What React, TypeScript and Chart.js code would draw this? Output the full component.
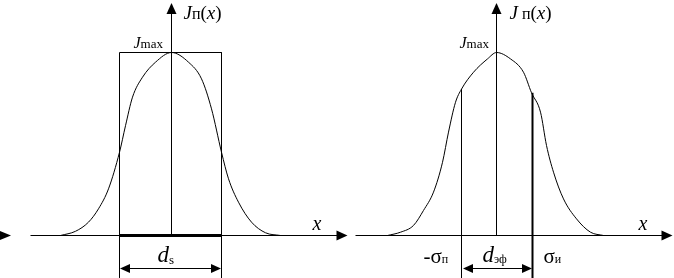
import React, { useEffect, useRef } from "react";
import { Chart, registerables } from "chart.js";

Chart.register(...registerables);

// Left panel: profile J(x)/Jmax with the equivalent rectangle of width d_s
const leftX = [-11.1, -9.6, -8.3, -7.3, -6.3, -5.2, -4.6, -3.9, -2.9, -1.6, 0, 1.7, 3.0, 4.0, 5.0, 5.7, 6.7, 8.0, 9.4, 10.9];
const leftY = [0, 0.023, 0.073, 0.146, 0.255, 0.455, 0.6, 0.756, 0.865, 0.947, 1, 0.947, 0.856, 0.692, 0.455, 0.31, 0.182, 0.073, 0.015, 0];
const rectEdges = [-5.2, 5.0];
const rectTop = 1;

// Right panel: profile with ±sigma marks giving d_эф
const rightX = [-10.9, -9.6, -8.3, -7.3, -6.3, -5.4, -4.8, -4.1, -3.5, -2.3, -0.9, 0, 1.4, 2.7, 3.5, 4.4, 5.0, 5.7, 6.7, 8.0, 9.4, 10.7];
const rightY = [0, 0.018, 0.055, 0.137, 0.237, 0.4, 0.565, 0.728, 0.8, 0.892, 0.965, 1, 0.965, 0.892, 0.78, 0.674, 0.492, 0.346, 0.2, 0.091, 0.018, 0];
const sigmaX = [-3.5, 3.6];
const sigmaTop = [0.8, 0.78];

const FONT = "'Liberation Serif', 'DejaVu Serif', serif";

type Seg = { t: string; size: number; italic?: boolean; dy?: number };

function drawRich(ctx: CanvasRenderingContext2D, x: number, y: number, segs: Seg[]) {
  let cx = x;
  for (const s of segs) {
    ctx.font = `${s.italic ? "italic " : ""}${s.size}px ${FONT}`;
    ctx.fillText(s.t, cx, y + (s.dy || 0));
    cx += ctx.measureText(s.t).width;
  }
}

function arrowHead(ctx: CanvasRenderingContext2D, tx: number, ty: number, dir: "r" | "l" | "u", len: number, hw: number) {
  ctx.beginPath();
  ctx.moveTo(tx, ty);
  if (dir === "r") {
    ctx.lineTo(tx - len, ty - hw);
    ctx.lineTo(tx - len, ty + hw);
  } else if (dir === "l") {
    ctx.lineTo(tx + len, ty - hw);
    ctx.lineTo(tx + len, ty + hw);
  } else {
    ctx.lineTo(tx - hw, ty + len);
    ctx.lineTo(tx + hw, ty + len);
  }
  ctx.closePath();
  ctx.fill();
}

const decorations = {
  id: "decorations",
  afterDatasetsDraw(chart: any) {
    const ctx: CanvasRenderingContext2D = chart.ctx;
    const xL = chart.scales.xL;
    const xR = chart.scales.xR;
    const y = chart.scales.y;
    const oy = y.getPixelForValue(0);
    const topY = 3;
    const dimY = y.getPixelForValue(-0.18);
    ctx.save();
    ctx.fillStyle = "#000";
    ctx.strokeStyle = "#000";
    ctx.lineWidth = 1;

    const panels = [
      { s: xL, a: rectEdges[0], b: rectEdges[1] },
      { s: xR, a: sigmaX[0], b: sigmaX[1] },
    ];
    for (const p of panels) {
      const ox = p.s.getPixelForValue(0);
      // horizontal axis
      const x0 = ox - 141;
      const tip = ox + 176;
      ctx.beginPath();
      ctx.moveTo(x0, oy);
      ctx.lineTo(tip - 8, oy);
      ctx.stroke();
      arrowHead(ctx, tip, oy, "r", 11, 5);
      // vertical axis
      ctx.beginPath();
      ctx.moveTo(ox, oy);
      ctx.lineTo(ox, topY + 8);
      ctx.stroke();
      arrowHead(ctx, ox, topY, "u", 11, 5);
      // dimension arrow
      const pa = Math.round(p.s.getPixelForValue(p.a));
      const pb = Math.round(p.s.getPixelForValue(p.b));
      ctx.beginPath();
      ctx.moveTo(pa + 4, Math.round(dimY) + 0.5);
      ctx.lineTo(pb - 4, Math.round(dimY) + 0.5);
      ctx.stroke();
      arrowHead(ctx, pa + 1, Math.round(dimY) + 0.5, "l", 10, 4.5);
      arrowHead(ctx, pb, Math.round(dimY) + 0.5, "r", 10, 4.5);
    }
    // stray arrowhead at the far left edge
    arrowHead(ctx, 11, oy, "r", 12, 5);

    // texts
    ctx.textBaseline = "alphabetic";
    const lox = xL.getPixelForValue(0);
    const rox = xR.getPixelForValue(0);
    // left panel
    drawRich(ctx, lox + 12, 19, [
      { t: "J", size: 19, italic: true },
      { t: "п", size: 16 },
      { t: "(", size: 19 },
      { t: "x", size: 19, italic: true },
      { t: ")", size: 19 },
    ]);
    drawRich(ctx, lox - 38, 48, [
      { t: "J", size: 16, italic: true },
      { t: "max", size: 13 },
    ]);
    drawRich(ctx, lox + 141, 230, [{ t: "x", size: 20, italic: true }]);
    drawRich(ctx, lox - 14, 262, [
      { t: "d", size: 23, italic: true },
      { t: "s", size: 13, dy: 2 },
    ]);
    // right panel
    drawRich(ctx, rox + 13, 19, [
      { t: "J", size: 19, italic: true },
      { t: " п", size: 16 },
      { t: "(", size: 19 },
      { t: "x", size: 19, italic: true },
      { t: ")", size: 19 },
    ]);
    drawRich(ctx, rox - 37, 48, [
      { t: "J", size: 16, italic: true },
      { t: "max", size: 13 },
    ]);
    drawRich(ctx, rox + 142, 230, [{ t: "x", size: 20, italic: true }]);
    drawRich(ctx, rox - 14, 262, [
      { t: "d", size: 23, italic: true },
      { t: "эф", size: 12, dy: 1 },
    ]);
    drawRich(ctx, rox - 73, 263, [
      { t: "-σ", size: 21 },
      { t: "п", size: 12 },
    ]);
    drawRich(ctx, rox + 47, 263, [
      { t: "σ", size: 21 },
      { t: "и", size: 12 },
    ]);
    ctx.restore();
  },
};

export default function App() {
  const ref = useRef<HTMLCanvasElement | null>(null);
  useEffect(() => {
    if (!ref.current) return;
    const yBottom = -0.232;
    const black = "#000";
    const base = {
      borderColor: black,
      borderWidth: 1,
      pointRadius: 0,
      fill: false,
    };
    const chart = new Chart(ref.current, {
      type: "line",
      data: {
        datasets: [
          {
            ...base,
            xAxisID: "xL",
            data: leftX.map((x, i) => ({ x, y: leftY[i] })),
            cubicInterpolationMode: "monotone",
          },
          {
            ...base,
            xAxisID: "xL",
            data: [
              { x: rectEdges[0], y: yBottom },
              { x: rectEdges[0], y: rectTop },
              { x: rectEdges[1], y: rectTop },
              { x: rectEdges[1], y: yBottom },
            ],
          },
          {
            ...base,
            borderWidth: 3,
            xAxisID: "xL",
            data: [
              { x: rectEdges[0], y: 0 },
              { x: rectEdges[1], y: 0 },
            ],
          },
          {
            ...base,
            xAxisID: "xR",
            data: rightX.map((x, i) => ({ x, y: rightY[i] })),
            cubicInterpolationMode: "monotone",
          },
          {
            ...base,
            xAxisID: "xR",
            data: [
              { x: sigmaX[0], y: sigmaTop[0] },
              { x: sigmaX[0], y: yBottom },
            ],
          },
          {
            ...base,
            borderWidth: 2,
            xAxisID: "xR",
            data: [
              { x: sigmaX[1], y: sigmaTop[1] },
              { x: sigmaX[1], y: yBottom },
            ],
          },
        ] as any,
      },
      options: {
        animation: false,
        responsive: false,
        devicePixelRatio: 1,
        layout: { padding: 0 },
        plugins: {
          legend: { display: false },
          tooltip: { enabled: false },
          title: { display: false },
        },
        events: [],
        scales: {
          xL: { type: "linear", display: false, min: -17.15, max: 50.25 },
          xR: { type: "linear", display: false, min: -49.65, max: 17.75 },
          y: { type: "linear", display: false, min: 1.28689 - 278 / 183, max: 1.28689 },
        },
      } as any,
      plugins: [decorations],
    });
    return () => chart.destroy();
  }, []);
  return (
    <div style={{ position: "absolute", left: 0, top: 0, width: 674, height: 278, background: "#fff" }}>
      <canvas ref={ref} width={674} height={278} style={{ display: "block", width: 674, height: 278 }} />
    </div>
  );
}
